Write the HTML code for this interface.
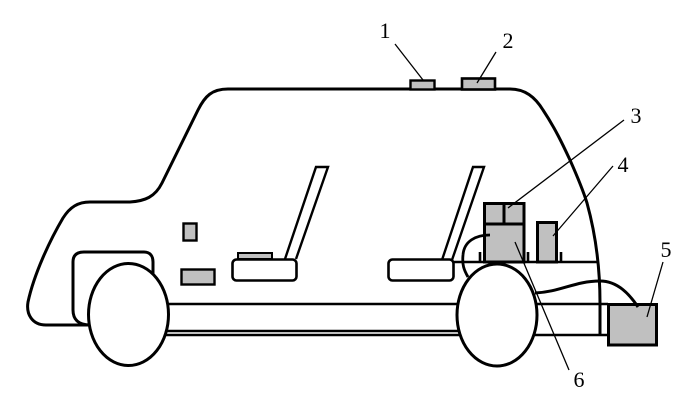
<!DOCTYPE html>
<html>
<head>
<meta charset="utf-8">
<style>
html,body{margin:0;padding:0;background:#fff;width:700px;height:407px;overflow:hidden}
svg{display:block}
text{font-family:"Liberation Serif",serif;font-size:22px;fill:#000}
</style>
</head>
<body>
<svg width="700" height="407" viewBox="0 0 700 407" xmlns="http://www.w3.org/2000/svg">
<g fill="none" stroke="#000" stroke-width="3">
  <!-- body -->
  <path d="M88 325 H46 C32 325 26 314 28 302 C34 274 50 240 63 218 C70 207 78 202 90 202 H130 C145 201 155 197 162 183 L198 110 C205 96 212 89 228 89 H510 C525 89 535 97 543 110 C555 128 563 145 570 160 C578 178 583 190 587 203 C595 232 600 265 600 303 V334"/>
  <!-- fender -->
  <path d="M90 325 C78 325 73 319 73 310 V262 C73 255 77 252 84 252 H144 C150 252 153 256 153 262 V275"/>
  <!-- rails -->
  <path d="M165 304 H608 M165 331 H462 M165 335 H608" stroke-width="2.6"/>
  <!-- floor -->
  <path d="M452 262 H597" stroke-width="2.6"/>
  <!-- left seat -->
  <path d="M285 259 L316 167 H328 L296 259" stroke-width="2.4"/>
  <rect x="238" y="253" width="34" height="6" fill="#c0c0c0" stroke-width="2"/>
  <rect x="232.500" y="259.500" width="64" height="21" rx="4" fill="#fff" stroke-width="2.6"/>
  <!-- right seat -->
  <path d="M442 260 L473 167 H484 L452 260" stroke-width="2.4"/>
  <rect x="388.500" y="259.500" width="65" height="21" rx="4" fill="#fff" stroke-width="2.6"/>
  <!-- small boxes -->
  <rect x="183.500" y="223.500" width="13" height="17" fill="#c0c0c0" stroke-width="2.4"/>
  <rect x="181.500" y="269.500" width="33" height="15" fill="#c0c0c0" stroke-width="2.4"/>
  <rect x="410.500" y="80.500" width="24" height="9" fill="#c0c0c0" stroke-width="2.4"/>
  <rect x="462" y="78.500" width="33" height="11" fill="#c0c0c0" stroke-width="2.6"/>
  <!-- box 3 / 6 / 4 -->
  <rect x="484.500" y="203.500" width="39.500" height="21" fill="#c0c0c0" stroke-width="3"/>
  <path d="M504 203 V224" stroke-width="3"/>
  <rect x="484.500" y="224" width="39.500" height="38" fill="#c0c0c0" stroke-width="3"/>
  <rect x="537.500" y="222.500" width="19" height="39.500" fill="#c0c0c0" stroke-width="3"/>
  <!-- ticks -->
  <path d="M480 252 V262 M528 252 V262 M561 252 V262" stroke-width="2.6"/>
  <!-- hook wire -->
  <path d="M490 235 C476 235 464 241 463 255 C462 265 464 270 468 277" stroke-width="2.8"/>
  <!-- wheels -->
  <ellipse cx="128.500" cy="314.500" rx="40" ry="51" fill="#fff" stroke-width="3"/>
  <ellipse cx="497" cy="315" rx="40" ry="51" fill="#fff" stroke-width="3"/>
  <!-- box 5 -->
  <rect x="608.500" y="304.500" width="48" height="40.500" fill="#c0c0c0" stroke-width="3"/>
  <!-- wire -->
  <path d="M535 293 C560 292 575 281 600 281 C618 281 630 295 638 307" stroke-width="3"/>
</g>
<!-- leaders -->
<g fill="none" stroke="#000" stroke-width="1.300">
  <path d="M395 44 L423 80"/>
  <path d="M496 52 L477 83"/>
  <path d="M624 120 L508 208"/>
  <path d="M613 166 L553 236"/>
  <path d="M663 262 L647 317"/>
  <path d="M515 242 L569 370"/>
</g>
<g text-anchor="middle">
  <text x="385" y="38">1</text>
  <text x="508" y="48">2</text>
  <text x="636" y="123">3</text>
  <text x="623" y="172">4</text>
  <text x="666" y="257">5</text>
  <text x="579" y="387">6</text>
</g>
</svg>
</body>
</html>
